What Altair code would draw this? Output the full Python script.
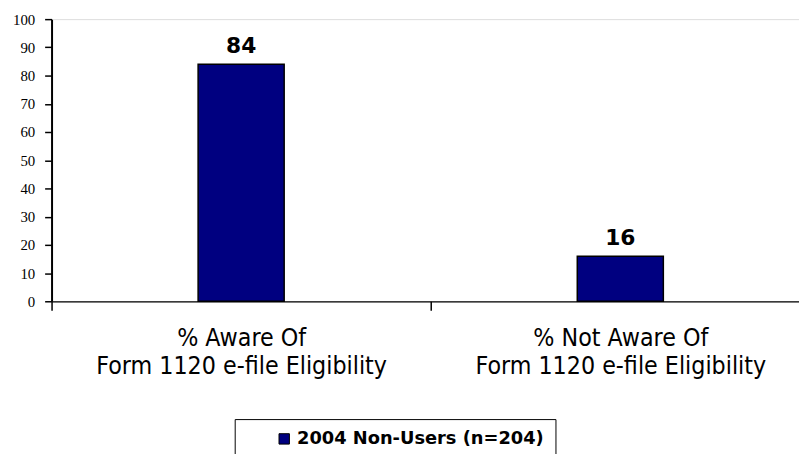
import altair as alt
import pandas as pd

categories = ["% Aware Of\nForm 1120 e-file Eligibility",
              "% Not Aware Of\nForm 1120 e-file Eligibility"]
values = [84, 16]
series_name = "2004 Non-Users (n=204)"
y_ticks = [0, 10, 20, 30, 40, 50, 60, 70, 80, 90, 100]

df = pd.DataFrame({"cat": categories, "value": values,
                   "series": [series_name] * len(categories)})

x_enc = alt.X(
    "cat:N", sort=categories, title=None,
    scale=alt.Scale(range=[0, 766], paddingInner=0, paddingOuter=0),
    axis=alt.Axis(tickBand="extent", labelAngle=0,
                  labelExpr="split(datum.label, '\\n')",
                  labelFont="DejaVu Sans Condensed", labelFontSize=25,
                  labelLineHeight=28,
                  labelPadding=16, labelColor="black", labelLimit=600,
                  tickSize=9, tickColor="black", tickWidth=1.5,
                  domainColor="black", domainWidth=1.2),
)
y_enc = alt.Y(
    "value:Q", title=None, scale=alt.Scale(domain=[0, 100], nice=False),
    axis=alt.Axis(values=y_ticks, grid=False, labelFont="Liberation Serif",
                  labelFontSize=15, labelColor="black", labelPadding=10,
                  tickSize=7, tickColor="black", tickWidth=1.5,
                  domainColor="black", domainWidth=2),
)

base = alt.Chart(df).encode(x=x_enc, y=y_enc)

bars = base.mark_bar(width=alt.RelativeBandSize(0.227), stroke="black",
                     strokeWidth=1.5).encode(
    color=alt.Color("series:N", scale=alt.Scale(range=["#000080"]),
                    legend=alt.Legend(
                        title=" ", titleOrient="left", titlePadding=30,
                        orient="none", legendX=185, legendY=404,
                        strokeColor="black", fillColor="white", padding=11,
                        symbolType="square", symbolSize=110,
                        symbolStrokeColor="black", symbolStrokeWidth=1,
                        labelFont="DejaVu Sans", labelFontSize=18,
                        labelFontWeight="bold", labelColor="black",
                        labelLimit=500))
)

labels = base.mark_text(dy=-11, baseline="alphabetic", font="DejaVu Sans",
                        fontWeight="bold", fontSize=22, color="black").encode(
    text="value:Q")

chart = (bars + labels).properties(
    width=755, height=285,
    autosize=alt.AutoSizeParams(type="none"),
    padding={"left": 44, "top": 9, "right": 0, "bottom": 152},
).configure_view(stroke=None).configure(background="white")

chart.save("out.html", embed_options={"renderer": "svg", "actions": False})
